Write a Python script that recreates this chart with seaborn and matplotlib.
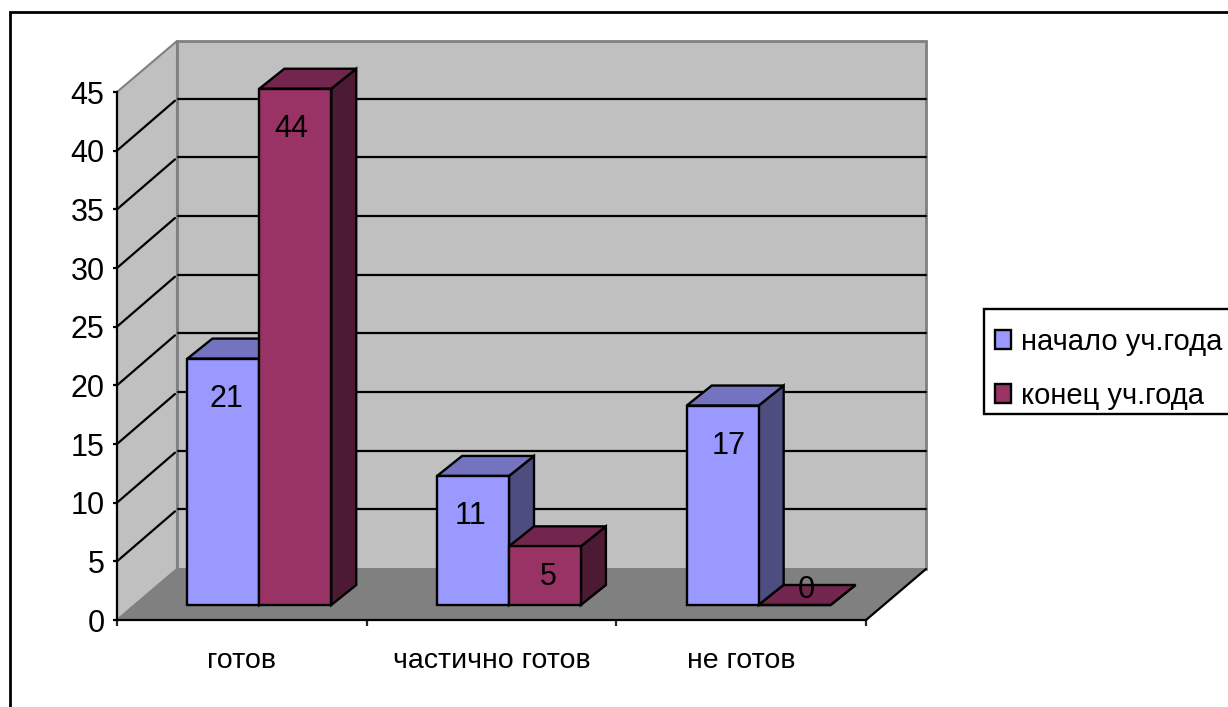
import matplotlib
matplotlib.use("Agg")
import matplotlib.pyplot as plt
from matplotlib.lines import Line2D
from matplotlib.patches import Patch, Polygon, Rectangle
from matplotlib.transforms import Affine2D, IdentityTransform
import pandas as pd
import seaborn as sns

categories = ["готов", "частично готов", "не готов"]
series_names = ["начало уч.года", "конец уч.года"]
start_of_year = [21, 11, 17]
end_of_year = [44, 5, 0]
y_ticks = [0, 5, 10, 15, 20, 25, 30, 35, 40, 45]

# colours: front, top, side
BAR_COLORS = {
    series_names[0]: ("#9999FF", "#7373BF", "#4D4D80"),
    series_names[1]: ("#993366", "#73264D", "#4D1A33"),
}
# label nudges from the bar centre, in pixels (left to right)
LABEL_NUDGE = [(3, 0), (-4, 0), (-3, 0), (3, 10), (6, 0), (12, 0)]

W, H = 1228, 707
WALL_DEPTH = (60, 51)
BAR_SHIFT = (17.5, 15)
BAR_DEPTH = (25, 20)
FS = 22

sns.set_theme(style="white")
plt.rcParams["font.family"] = ["Liberation Sans", "DejaVu Sans"]

df = pd.DataFrame({
    "category": categories * 2,
    "series": [series_names[0]] * 3 + [series_names[1]] * 3,
    "value": start_of_year + end_of_year,
})

fig = plt.figure(figsize=(W / 100, H / 100), dpi=100, facecolor="white")
ax = fig.add_axes([117 / W, (H - 620) / H, (866 - 117) / W, (620 - 92) / H])
ax.patch.set_visible(False)

sns.barplot(
    data=df, x="category", y="value", hue="series", order=categories,
    hue_order=series_names, width=0.576, gap=0, saturation=1,
    palette={k: v[0] for k, v in BAR_COLORS.items()},
    edgecolor="black", linewidth=1.7, errorbar=None, legend=False, ax=ax,
)
ax.set_xlim(-0.5, 2.5)
ax.set_ylim(0, 45)
ax.set_xlabel("")
ax.set_ylabel("")

bars = sorted(ax.patches, key=lambda b: b.get_x())


def to_px(x, y):
    return ax.transData.transform((x, y))


def add_poly(points, face, edge, lw=1.7, z=1):
    ax.add_patch(Polygon(points, closed=True, facecolor=face, edgecolor=edge, linewidth=lw,
                         transform=IdentityTransform(), clip_on=False, zorder=z))


# walls and floor
dx, dy = WALL_DEPTH
fl, fr = to_px(-0.5, 0), to_px(2.5, 0)
tl, tr = to_px(-0.5, 45), to_px(2.5, 45)
back = lambda p: (p[0] + dx, p[1] + dy)
add_poly([back(fl), back(fr), back(tr), back(tl)], "#C0C0C0", "#808080", lw=2, z=0.5)
add_poly([fl, back(fl), back(tl), tl], "#C0C0C0", "#808080", lw=1.5, z=0.6)
add_poly([fl, fr, back(fr), back(fl)], "#808080", "#808080", lw=1, z=0.7)

# gridlines on the side wall and the back wall
for v in y_ticks[1:-1]:
    p = to_px(-0.5, v)
    q = to_px(2.5, v)
    ax.add_line(Line2D([p[0], p[0] + dx - 2], [p[1], p[1] + dy - 1], color="black", lw=1.6,
                       transform=IdentityTransform(), clip_on=False, zorder=0.8))
    ax.add_line(Line2D([p[0] + dx + 1, q[0] + dx], [p[1] + dy + 1, q[1] + dy + 1], color="black", lw=1.6,
                       transform=IdentityTransform(), clip_on=False, zorder=0.8))
ax.add_line(Line2D([fr[0], fr[0] + dx], [fr[1], fr[1] + dy], color="black", lw=1.6,
                   transform=IdentityTransform(), clip_on=False, zorder=0.9))

# extrude the bars: shift the fronts, add a top and a side
sx, sy = BAR_SHIFT
bx, by = BAR_DEPTH
for i, bar in enumerate(bars):
    name = series_names[i % 2]
    top_c, side_c = BAR_COLORS[name][1:]
    x0, w, h = bar.get_x(), bar.get_width(), bar.get_height()
    a = to_px(x0, 0) + (sx, sy)
    b = to_px(x0 + w, 0) + (sx, sy)
    c = to_px(x0 + w, h) + (sx, sy)
    d = to_px(x0, h) + (sx, sy)
    z = 3 + i
    add_poly([b, c, (c[0] + bx, c[1] + by), (b[0] + bx, b[1] + by)], side_c, "black", z=z)
    add_poly([d, c, (c[0] + bx, c[1] + by), (d[0] + bx, d[1] + by)], top_c, "black", z=z + 0.1)
    bar.set_transform(ax.transData + Affine2D().translate(sx, sy))
    bar.set_clip_on(False)
    bar.set_zorder(z + 0.2)
    nx, ny = LABEL_NUDGE[i]
    label_y = d[1] - 40 if h > 6 else (d[1] - 31 if h > 0 else d[1] + 15)
    ax.text((a[0] + b[0]) / 2 + nx, label_y, f"{h:g}", transform=IdentityTransform(), ha="center",
            va="center", fontsize=FS, color="black", zorder=50, clip_on=False)

# axes
for side in ["top", "right"]:
    ax.spines[side].set_visible(False)
for side in ["left", "bottom"]:
    ax.spines[side].set_linewidth(1.6)
    ax.spines[side].set_color("black")
    ax.spines[side].set_zorder(1.5)
ax.set_yticks(y_ticks)
ax.set_xticks([-0.5, 0.5, 1.5, 2.5], labels=[])
ax.set_xticks([0, 1, 2], labels=categories, minor=True)
ax.tick_params(axis="y", which="major", left=True, length=3, width=1.6, pad=6, labelsize=FS, colors="black")
ax.tick_params(axis="x", which="major", bottom=True, length=4.5, width=1.6)
ax.tick_params(axis="x", which="minor", bottom=False, length=0, pad=20, labelsize=20.5, labelcolor="black")

# legend box runs past the right edge, like the frame
fig.add_artist(Rectangle((984 / W, (H - 414) / H), 0.3, 105 / H, transform=fig.transFigure,
                         facecolor="white", edgecolor="black", linewidth=1.7))
handles = [Patch(facecolor=BAR_COLORS[n][0], edgecolor="black", linewidth=1.7, label=n) for n in series_names]
leg = fig.legend(
    handles=handles, loc="upper left", bbox_to_anchor=(984 / W, (H - 317) / H), fontsize=21,
    frameon=False, borderaxespad=0, borderpad=0.38, labelcolor="black",
    labelspacing=0.88, handlelength=0.55, handleheight=0.62, handletextpad=0.34,
)
leg.set_zorder(5)

# outer chart border, cut by the right and bottom edges
fig.add_artist(Rectangle((9.5 / W, -0.05), 1.2, (H - 12) / H + 0.05, transform=fig.transFigure,
                         fill=False, edgecolor="black", linewidth=2))

fig.savefig("out.png", dpi=100)
